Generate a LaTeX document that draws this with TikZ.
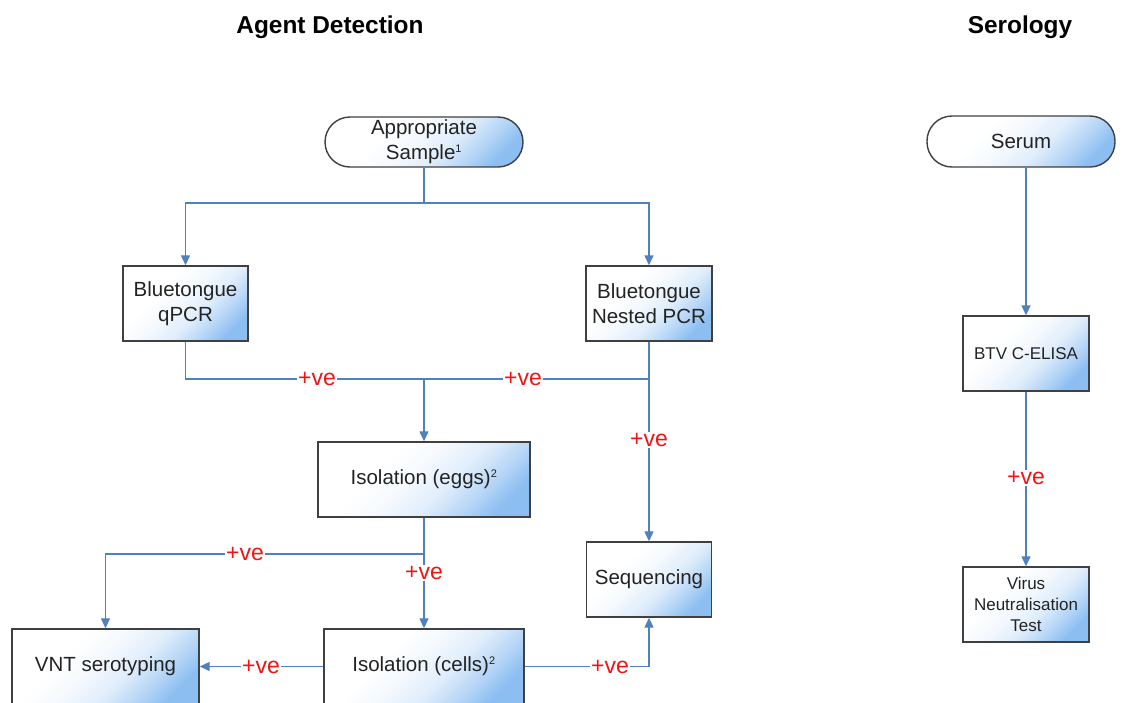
\documentclass[tikz,border=0pt]{standalone}
\usepackage{fontspec}
\setmainfont{Liberation Sans}
\usetikzlibrary{arrows.meta}
\definecolor{lineblue}{RGB}{79,129,189}
\definecolor{boxedge}{RGB}{64,64,64}
\definecolor{shadeblue}{RGB}{140,190,242}
\definecolor{vered}{RGB}{240,20,20}
\definecolor{txtgray}{RGB}{35,35,35}
\pgfdeclareverticalshading{boxshade}{100bp}{color(0bp)=(shadeblue); color(24bp)=(shadeblue); color(32bp)=(shadeblue!65!white); color(42bp)=(shadeblue!28!white); color(54bp)=(shadeblue!8!white); color(64bp)=(white); color(100bp)=(white)}
\tikzset{
  x=1pt, y=-1pt,
  procbox/.style={draw=boxedge, line width=1.4pt, inner sep=0pt, align=center,
    shading=boxshade, shading angle=45, text=txtgray,
    font=\fontsize{20.5}{25}\selectfont},
  smalltxt/.style={font=\fontsize{17}{21}\selectfont},
  termbox/.style={procbox, rounded corners=25pt},
  conn/.style={draw=lineblue, line width=1.3pt},
  arr/.style={conn, -{Triangle[length=10pt,width=9pt]}},
  poslabel/.style={fill=white, text=vered, inner sep=1.5pt, font=\fontsize{23}{23}\selectfont},
  titletxt/.style={font=\bfseries\fontsize{24.4}{28}\selectfont}
}
\begin{document}
\begin{tikzpicture}
\useasboundingbox (0,0) rectangle (1123,702);
\clip (0,0) rectangle (1123,702);
% titles
\node[titletxt] (t1) at (330,27) {Agent Detection};
\node[titletxt] (t2) at (1020,27) {Serology};
% nodes
\node[termbox, minimum width=198pt, minimum height=50pt] (sample) at (424,142) {Appropriate\\Sample\textsuperscript{\fontsize{11}{11}\selectfont 1}};
\node[termbox, minimum width=188pt, minimum height=51pt] (serum) at (1021,141.5) {Serum};
\node[procbox, minimum width=125pt, minimum height=75pt] (qpcr) at (185.5,303.5) {Bluetongue\\qPCR};
\node[procbox, minimum width=126pt, minimum height=75pt] (nested) at (649,303.5) {Bluetongue\\Nested PCR};
\node[procbox, minimum width=212pt, minimum height=75pt] (eggs) at (424,479.5) {Isolation (eggs)\textsuperscript{\fontsize{11}{11}\selectfont 2}};
\node[procbox, minimum width=125pt, minimum height=75pt] (seq) at (649,579.5) {Sequencing};
\node[procbox, minimum width=187pt, minimum height=75pt] (vnt) at (105.5,666.5) {VNT serotyping};
\node[procbox, minimum width=200pt, minimum height=75pt] (cells) at (424,666.5) {Isolation (cells)\textsuperscript{\fontsize{11}{11}\selectfont 2}};
\node[procbox, smalltxt, minimum width=126pt, minimum height=75pt] (elisa) at (1026,353.5) {BTV C-ELISA};
\node[procbox, smalltxt, minimum width=126pt, minimum height=75pt] (vntest) at (1026,604.5) {Virus\\Neutralisation\\Test};
% junctions
\coordinate (j1) at (424,203);
\coordinate (j2) at (649,379);
\coordinate (j3) at (424,379);
\coordinate (j4) at (424,554);
\coordinate (j5) at (649,666.5);
\coordinate (j6) at (1026,167);
% connectors
\draw[conn] (sample.south) -- (j1);
\draw[arr] (j1) -| (qpcr.north);
\draw[arr] (j1) -| (nested.north);
\draw[conn] (qpcr.south) |- (j2);
\draw[conn] (nested.south) -- (j2);
\draw[arr] (j3) -- (eggs.north);
\draw[arr] (j2) -- (seq.north);
\draw[conn] (eggs.south) -- (j4);
\draw[arr] (j4) -| (vnt.north);
\draw[arr] (j4) -- (cells.north);
\draw[arr] (cells.west) -- (vnt.east);
\draw[conn] (cells.east) -- (j5);
\draw[arr] (j5) -- (seq.south);
\draw[arr] (j6) -- (elisa.north);
\draw[arr] (elisa.south) -- (vntest.north);
% labels
\node[poslabel] (l1) at (317,379) {+ve};
\node[poslabel] (l2) at (523,379) {+ve};
\node[poslabel] (l3) at (649,440) {+ve};
\node[poslabel] (l4) at (245,554) {+ve};
\node[poslabel] (l5) at (424,573) {+ve};
\node[poslabel] (l6) at (261,666.5) {+ve};
\node[poslabel] (l7) at (610,666.5) {+ve};
\node[poslabel] (l8) at (1026,478) {+ve};
\end{tikzpicture}
\end{document}
